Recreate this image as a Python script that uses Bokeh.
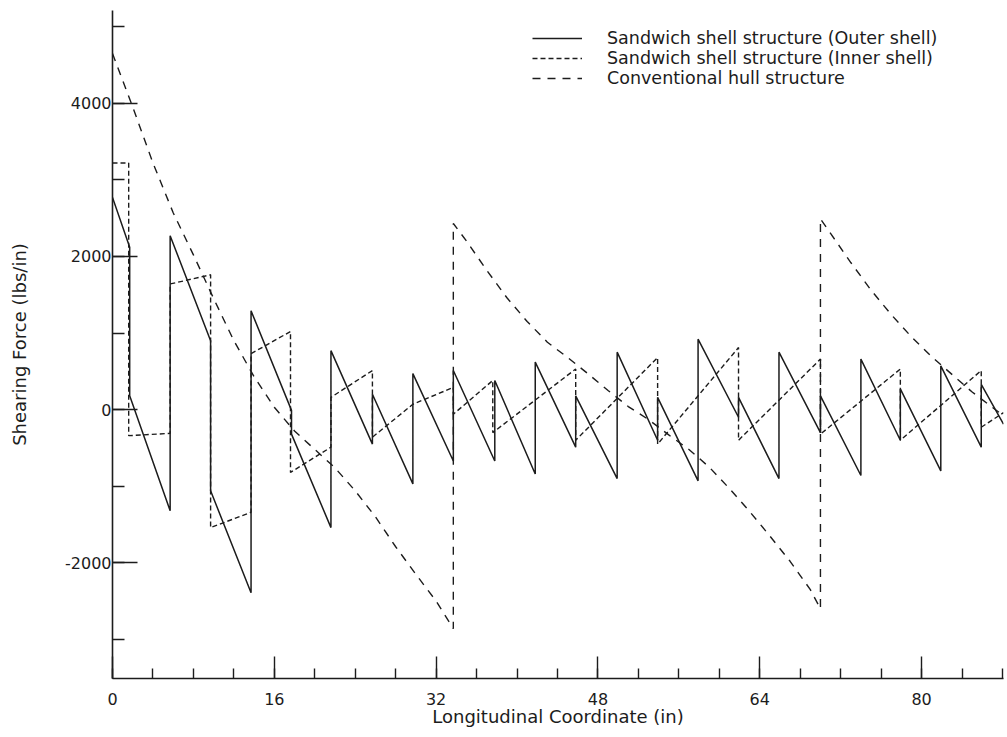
from bokeh.plotting import figure
from bokeh.models import Range1d, SingleIntervalTicker, Legend, LegendItem
from bokeh.embed import file_html
from bokeh.resources import INLINE

# Shear flow along the longitudinal coordinate (in), lbs/in
outer_x = [0, 1.7, 1.7, 5.7, 5.7, 9.7, 9.7, 13.7, 13.7, 17.7, 17.7, 21.6, 21.6,
           25.7, 25.7, 29.7, 29.7, 33.7, 33.7, 37.8, 37.8, 41.8, 41.8, 45.8, 45.8,
           49.9, 49.9, 53.9, 53.9, 57.9, 57.9, 61.9, 61.9, 65.9, 65.9, 70.0, 70.0,
           74.0, 74.0, 77.9, 77.9, 81.9, 81.9, 85.9, 85.9, 88.1]
outer_y = [2770, 2120, 180, -1320, 2270, 900, -1060, -2390, 1290, -10, -320, -1540, 770,
           -450, 200, -970, 470, -670, 510, -670, 380, -840, 620, -490, 180,
           -900, 750, -400, 160, -930, 920, -100, 160, -900, 750, -300, 180,
           -860, 660, -400, 270, -800, 570, -490, 330, -190]

inner_x = [0, 1.6, 1.6, 5.7, 5.7, 9.7, 9.7, 13.7, 13.7, 17.6, 17.6, 21.6, 21.6,
           25.7, 25.7, 29.7, 33.7, 33.7, 37.6, 37.6, 45.8, 45.8, 53.9, 53.9,
           61.9, 61.9, 70.0, 70.0, 77.9, 77.9, 85.9, 85.9, 88.1]
inner_y = [3220, 3220, -340, -310, 1640, 1760, -1540, -1340, 730, 1020, -820, -490, 160,
           510, -360, 70, 290, -60, 380, -300, 530, -400, 680, -450,
           810, -400, 660, -320, 530, -400, 510, -230, -40]

hull_x = [0, 2, 4, 6, 8, 10, 12, 14, 16, 18, 20, 22, 24, 26, 28, 30, 32, 33.7,
          33.7, 35, 37, 39, 41, 43, 45, 47, 49, 51, 53, 55, 57, 59, 61, 63, 65, 67, 69, 70,
          70, 71, 73, 75, 77, 79, 81, 83, 85, 87, 88.1]
hull_y = [4650, 3950, 3220, 2570, 2020, 1450, 900, 430, 30, -280, -520, -760, -1060,
          -1400, -1790, -2150, -2500, -2860,
          2430, 2200, 1820, 1460, 1150, 880, 680, 470, 250, 40, -130, -330, -520, -750,
          -1030, -1330, -1650, -1980, -2350, -2600,
          2490, 2300, 1920, 1560, 1240, 950, 690, 460, 230, 30, -80]

x_tick_step = 16
y_tick_step = 2000
y_tick_text = {-2000: "-2000", 0: "0", 2000: "2000", 4000: "4000"}

labels = ["Sandwich shell structure (Outer shell)",
          "Sandwich shell structure (Inner shell)",
          "Conventional hull structure"]

INK = "#1c1c1c"
FONT = "DejaVu Sans"

p = figure(width=1007, height=737, output_backend="svg", toolbar_location=None,
           x_range=Range1d(0, 88.1), y_range=Range1d(-3510, 5210),
           min_border_left=112, min_border_right=4, min_border_top=10,
           min_border_bottom=59)

p.outline_line_color = None
p.grid.visible = False
p.background_fill_color = "white"
p.border_fill_color = "white"

r_outer = p.line(outer_x, outer_y, line_color=INK, line_width=1.5)
r_inner = p.line(inner_x, inner_y, line_color=INK, line_width=1.4, line_dash="5 3")
r_hull = p.line(hull_x, hull_y, line_color=INK, line_width=1.4, line_dash="8 7")

# axes
p.xaxis.ticker = SingleIntervalTicker(interval=x_tick_step, num_minor_ticks=4)
p.yaxis.ticker = SingleIntervalTicker(interval=y_tick_step, num_minor_ticks=2)
p.yaxis.major_label_overrides = y_tick_text

for ax in (p.xaxis[0], p.yaxis[0]):
    ax.axis_line_color = INK
    ax.axis_line_width = 1.6
    ax.major_tick_line_color = INK
    ax.minor_tick_line_color = INK
    ax.major_tick_line_width = 1.4
    ax.minor_tick_line_width = 1.4
    ax.major_tick_out = 0
    ax.minor_tick_out = 0
    ax.major_label_text_font = FONT
    ax.major_label_text_font_size = "16px"
    ax.major_label_text_color = INK
    ax.axis_label_text_font = FONT
    ax.axis_label_text_font_size = "18px"
    ax.axis_label_text_font_style = "normal"
    ax.axis_label_text_color = INK

p.xaxis.major_tick_in = 22
p.xaxis.minor_tick_in = 10
p.yaxis.major_tick_in = 25
p.yaxis.minor_tick_in = 12

p.xaxis.axis_label = "Longitudinal Coordinate (in)"
p.yaxis.axis_label = "Shearing Force (lbs/in)"
p.xaxis.major_label_standoff = 14
p.xaxis.axis_label_standoff = -2
p.yaxis.major_label_standoff = 1
p.yaxis.axis_label_standoff = 32

legend = Legend(items=[LegendItem(label=labels[0], renderers=[r_outer]),
                       LegendItem(label=labels[1], renderers=[r_inner]),
                       LegendItem(label=labels[2], renderers=[r_hull])],
                location=(420, 590))
legend.border_line_color = None
legend.background_fill_alpha = 0
legend.padding = 0
legend.margin = 0
legend.spacing = 0
legend.glyph_width = 50
legend.glyph_height = 20
legend.label_height = 20
legend.label_standoff = 25
legend.label_text_font = FONT
legend.label_text_font_size = "17.5px"
legend.label_text_color = INK
p.add_layout(legend)

open("out.html", "w").write(file_html(p, INLINE))
